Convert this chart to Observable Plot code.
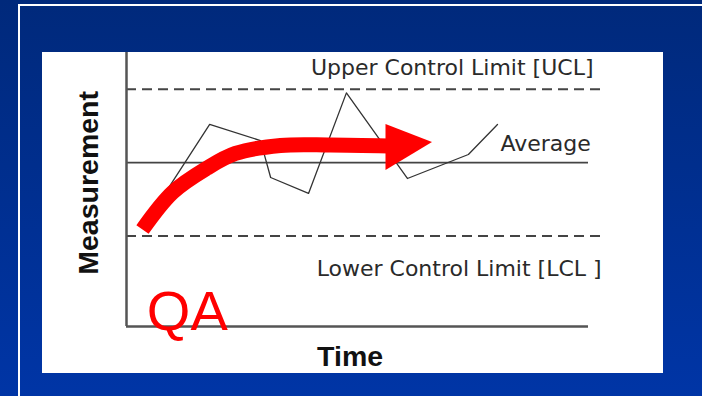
<!DOCTYPE html>
<html>
<head>
<meta charset="utf-8">
<script src="https://cdn.jsdelivr.net/npm/d3@7"></script>
<script src="https://cdn.jsdelivr.net/npm/@observablehq/plot@0.6"></script>
<style>
  html, body { margin: 0; padding: 0; }
  body {
    width: 702px; height: 396px; overflow: hidden; position: relative;
    background: linear-gradient(#00297b, #0035a6);
  }
  #frame {
    position: absolute; left: 18px; top: 4px; width: 700px; height: 400px;
    border-top: 2px solid #fff; border-left: 2px solid #fff;
  }
  #chart { position: absolute; left: 42px; top: 52px; width: 621px; height: 321px; background: #fff; }
  #chart svg { display: block; overflow: visible; }
</style>
</head>
<body>
<div id="frame"></div>
<div id="chart"></div>
<script>
// Control chart data (abstract units)
const timePoints   = [3.7, 18, 29, 31.2, 39.4, 47.6, 60.8, 74, 80.3];
const measurements = [40.9, 82.6, 76.0, 60.9, 54.4, 95.5, 60.5, 70.3, 82.6];

const limitNames  = ["Upper Control Limit [UCL]", "Average", "Lower Control Limit [LCL ]"];
const limitValues = [97, 67, 37];

const axisTitles = ["Measurement", "Time"];
const annotation = "QA";

// QA improvement arrow (centre line of the shaft, and the head)
const arrowX = [3.46, 9.96, 17.32, 23.59, 33.33, 44.16, 56.71];
const arrowY = [39.66, 54.78, 64.6, 70.73, 74.0, 74.2, 73.8];
const headX  = [56.17, 66.23];
const headY1 = [82.6, 75.2];
const headY2 = [63.8, 75.2];

const series = timePoints.map((t, i) => ({t, m: measurements[i]}));
const arrow = arrowX.map((x, i) => ({x, y: arrowY[i]}));
const head = headX.map((x, i) => ({x, y1: headY1[i], y2: headY2[i]}));

const c = v => () => v;
const label = {fontSize: 22, fontFamily: "DejaVu Sans", fill: "#2a2a2a"};
const title = {fontSize: 28.5, fontWeight: "bold", fontFamily: "Liberation Sans", fill: "#111"};

const chart = Plot.plot({
  width: 621,
  height: 321,
  marginLeft: 84,
  marginRight: 75,
  marginTop: 0,
  marginBottom: 47,
  x: {domain: [0, 100], axis: null},
  y: {domain: [0, 112], axis: null},
  style: {background: "white", overflow: "visible"},
  marks: [
    // limits
    Plot.ruleY([limitValues[0]], {y: d => d, x1: c(0), x2: c(103), stroke: "#444", strokeWidth: 2, strokeDasharray: "10,6"}),
    Plot.ruleY([limitValues[1]], {y: d => d, x1: c(0), x2: c(100), stroke: "#444", strokeWidth: 1.8}),
    Plot.ruleY([limitValues[2]], {y: d => d, x1: c(0), x2: c(103), stroke: "#444", strokeWidth: 2, strokeDasharray: "10,6"}),
    // axes
    Plot.ruleY([0], {y: d => d, x1: c(0), x2: c(100), stroke: "#555", strokeWidth: 2.5}),
    Plot.ruleX([0], {x: d => d, y1: c(0), y2: c(112), stroke: "#555", strokeWidth: 2.5}),
    // measurement line
    Plot.line(series, {x: "t", y: "m", stroke: "#333", strokeWidth: 1.3}),
    // labels
    Plot.text([limitNames[0]], {x: c(70.5), y: c(105.5), text: d => d, textAnchor: "middle", ...label}),
    Plot.text([limitNames[1]], {x: c(80.95), y: c(74.8), text: d => d, textAnchor: "start", ...label}),
    Plot.text([limitNames[2]], {x: c(72.0), y: c(23.7), text: d => d, textAnchor: "middle", ...label}),
    Plot.text([axisTitles[0]], {x: c(-8.14), y: c(58.7), text: d => d, rotate: -90, ...title}),
    Plot.text([axisTitles[1]], {x: c(48.4), y: c(-12.4), text: d => d, ...title}),
    // arrow
    Plot.line(arrow, {x: "x", y: "y", curve: "catmull-rom", stroke: "#ff0000", strokeWidth: 15, strokeLinecap: "butt"}),
    Plot.areaY(head, {x: "x", y1: "y1", y2: "y2", fill: "#ff0000"}),
    Plot.text([annotation], {x: c(4.4), y: c(5.7), text: d => d, fontSize: 56, fontFamily: "Liberation Sans", fill: "#ff0000", textAnchor: "start"})
  ]
});
document.getElementById("chart").appendChild(chart);
</script>
</body>
</html>
